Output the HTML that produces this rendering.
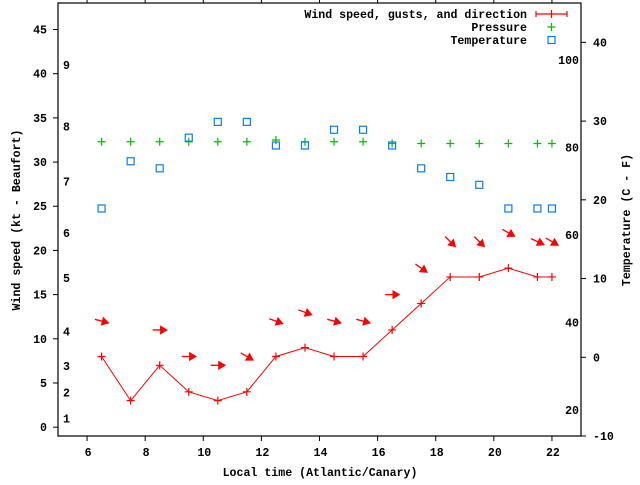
<!DOCTYPE html>
<html><head><meta charset="utf-8"><style>
body{margin:0;background:#fff}
svg text{font-family:"Liberation Mono",monospace;font-weight:bold;font-size:11.6px;fill:#000}
</style></head><body>
<svg id="c" width="640" height="480" xmlns="http://www.w3.org/2000/svg"></svg>
<script>
const hours=[6.5,7.5,8.5,9.5,10.5,11.5,12.5,13.5,14.5,15.5,16.5,17.5,18.5,19.5,20.5,21.5,22];
const windKt=[8,3,7,4,3,4,8,9,8,8,11,14,17,17,18,17,17];
const gustHours=[6.5,8.5,9.5,10.5,11.5,12.5,13.5,14.5,15.5,16.5,17.5,18.5,19.5,20.5,21.5,22];
const gustKt=[12,11,8,7,8,12,13,12,12,15,18,21,21,22,21,21];
const gustTilt=[15,0,0,0,30,20,20,15,15,0,35,45,45,30,25,30];
const pressureKt=[32.3,32.3,32.3,32.3,32.3,32.3,32.5,32.3,32.3,32.3,32.1,32.1,32.1,32.1,32.1,32.1,32.1];
const tempC=[18.9,24.9,24,27.9,29.9,29.9,26.9,26.9,28.9,28.9,26.9,24,22.9,21.9,18.9,18.9,18.9];
const xTicks=[6,8,10,12,14,16,18,20,22];
const yTicks=[0,5,10,15,20,25,30,35,40,45];
const cTicks=[-10,0,10,20,30,40];
const fTicks=[20,40,60,80,100];
const bftLabels=[1,2,3,4,5,6,7,8,9];
const bftKt=[1,3.9,6.9,10.8,16.9,22,27.8,34,41];

const L=58,R=581,T=3,B=436;
const X=h=>L+(h-5)/18*(R-L);
const Y=k=>B-(k+1)/49*(B-T);
const YC=c=>B-(c+10)/55*(B-T);
const YF=f=>YC((f-32)*5/9);
const s=document.getElementById('c');const NS='http://www.w3.org/2000/svg';
function el(t,a,txt){const e=document.createElementNS(NS,t);for(const k in a)e.setAttribute(k,a[k]);if(txt!==undefined)e.textContent=txt;s.appendChild(e);return e;}

let e;
e=el('rect',{x:L,y:T,width:R-L,height:B-T,fill:'none',stroke:'#000','stroke-width':1.2});


xTicks.forEach(h=>{
 e=el('line',{x1:X(h),x2:X(h),y1:B,y2:B+5,stroke:'#000'});
 
 
 e=el('line',{x1:X(h),x2:X(h),y1:T,y2:T-5,stroke:'#000'});
 
 
 e=el('text',{x:X(h)+1,y:B+20,'text-anchor':'middle'},h);
 
 
});
yTicks.forEach(k=>{
 e=el('line',{x1:L-5,x2:L,y1:Y(k),y2:Y(k),stroke:'#000'});
 
 
 e=el('text',{x:L-11,y:Y(k)+4,'text-anchor':'end'},k);
 
 
});
cTicks.forEach(c=>{
 e=el('line',{x1:R,x2:R+5,y1:YC(c),y2:YC(c),stroke:'#000'});
 
 
 e=el('text',{x:R+12,y:YC(c)+4},c);
 
 
});
fTicks.forEach(f=>{
 e=el('text',{x:R-2,y:YF(f)+4,'text-anchor':'end'},f);
 
 
});
bftLabels.forEach((b,i)=>{
 e=el('text',{x:63,y:Y(bftKt[i])+4},b);
 
 
});
e=el('text',{x:320,y:476,'text-anchor':'middle'},'Local time (Atlantic/Canary)');


e=el('text',{x:0,y:0,'text-anchor':'middle',transform:'translate(20,220) rotate(-90)'},'Wind speed (kt - Beaufort)');


e=el('text',{x:0,y:0,'text-anchor':'middle',transform:'translate(630,220) rotate(-90)'},'Temperature (C - F)');



// pressure
hours.forEach((h,i)=>{
 const x=X(h),y=Y(pressureKt[i]);
 e=el('path',{d:`M${x-4} ${y}H${x+4}M${x} ${y-4}V${y+4}`,stroke:'#00c000','stroke-width':1.2});
 
 
});
// temperature
hours.forEach((h,i)=>{
 e=el('rect',{x:X(h)-3.5,y:YC(tempC[i])-3.5,width:7,height:7,fill:'none',stroke:'#0a7ee8','stroke-width':1.2});
 
 
});
// wind line
e=el('polyline',{points:hours.map((h,i)=>X(h)+','+Y(windKt[i])).join(' '),fill:'none',stroke:'#f00','stroke-width':1});


hours.forEach((h,i)=>{
 const x=X(h),y=Y(windKt[i]);
 e=el('path',{d:`M${x-4} ${y}H${x+4}M${x} ${y-4}V${y+4}`,stroke:'#f00','stroke-width':1.2});
 
 
});
// gust arrows
gustHours.forEach((h,i)=>{
 const x=X(h),y=Y(gustKt[i]),a=gustTilt[i]*Math.PI/180;
 const dx=Math.cos(a),dy=Math.sin(a);
 const x1=x-7*dx,y1=y-7*dy,x2=x+7*dx,y2=y+7*dy;
 const px=-dy,py=dx;
 e=el('path',{d:`M${x1} ${y1}L${x2} ${y2}M${x2} ${y2}L${x2-6*dx+3.5*px} ${y2-6*dy+3.5*py}L${x2-6*dx-3.5*px} ${y2-6*dy-3.5*py}Z`,stroke:'#f00',fill:'#f00','stroke-width':1.3});
 
 
});
// legend
const lg=[['Wind speed, gusts, and direction',14],['Pressure',27],['Temperature',40]];
lg.forEach((l,i)=>{
 e=el('text',{x:527,y:l[1]+4,'text-anchor':'end'},l[0]);
 
 
});
e=el('path',{d:'M536 14H567M536 11V17M567 11V17M551.5 10V18',stroke:'#f00','stroke-width':1.2,fill:'none'});


e=el('path',{d:'M547.5 27H555.5M551.5 23V31',stroke:'#00c000','stroke-width':1.2});


e=el('rect',{x:548,y:36.5,width:7,height:7,fill:'none',stroke:'#0a7ee8','stroke-width':1.2});


</script>
</body></html>
